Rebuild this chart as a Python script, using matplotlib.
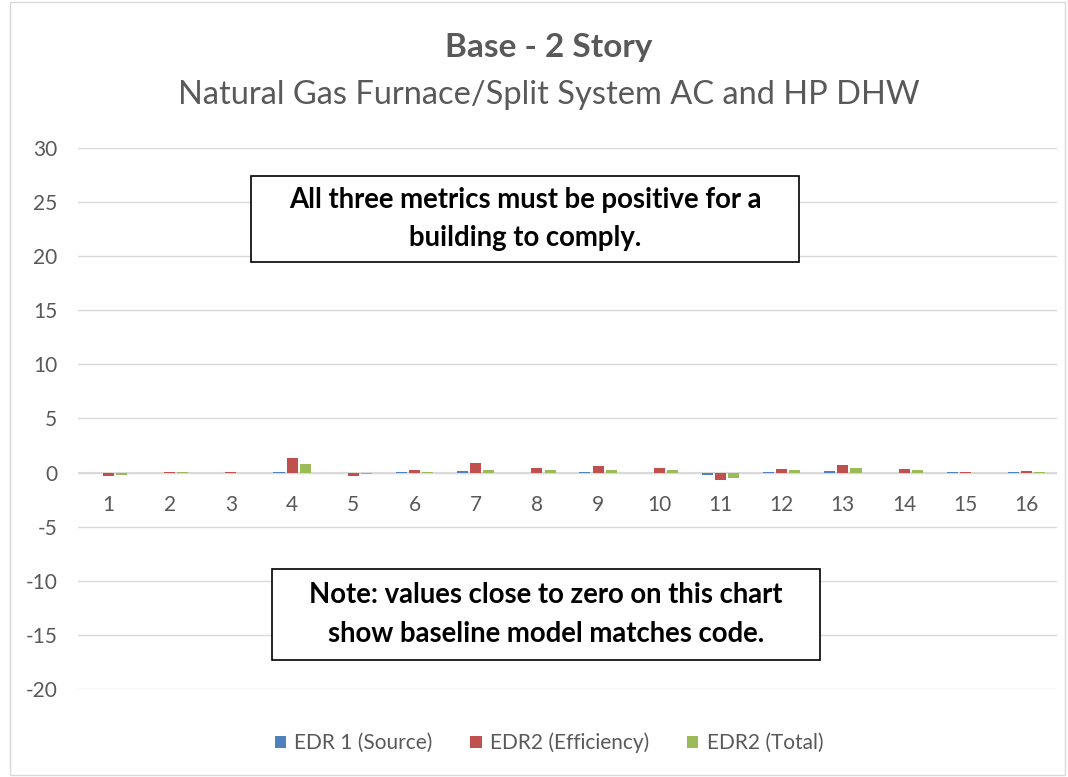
import numpy as np
import matplotlib.pyplot as plt
from matplotlib.patches import Rectangle

plt.rcParams['font.family'] = ['Lato', 'DejaVu Sans']
plt.rcParams['axes.unicode_minus'] = False

categorias = [str(i) for i in range(1, 17)]
edr1_source = [-0.05, -0.05, -0.05, 0.1, -0.05, 0.1, 0.15, 0.0, 0.1, 0.0, -0.25, 0.1, 0.15, 0.0, 0.05, 0.05]
edr2_eficiencia = [-0.3, 0.1, 0.1, 1.35, -0.3, 0.28, 0.87, 0.47, 0.6, 0.47, -0.7, 0.37, 0.7, 0.37, 0.1, 0.15]
edr2_total = [-0.2, 0.1, 0.0, 0.77, -0.15, 0.1, 0.25, 0.25, 0.25, 0.25, -0.5, 0.22, 0.47, 0.25, 0.0, 0.05]

series = [('EDR 1 (Source)', edr1_source, '#4f81bd'),
          ('EDR2 (Efficiency)', edr2_eficiencia, '#c0504d'),
          ('EDR2 (Total)', edr2_total, '#9bbb59')]

cinza = '#595959'

fig = plt.figure(figsize=(10.68, 7.77), dpi=100)
ax = fig.add_axes([78 / 1068, 1 - 689 / 777, 979 / 1068, 541 / 777])

x = np.arange(len(categorias))
passo = 0.215
largura = 0.18
for k, (nome, valores, cor) in enumerate(series):
    ax.bar(x + (k - 1) * passo, valores, largura, color=cor, label=nome, zorder=3)

ax.set_xlim(-0.5, len(categorias) - 0.5)
ax.set_ylim(-20, 30)
ax.set_yticks(np.arange(-20, 31, 5))
ax.yaxis.grid(True, color='#d9d9d9', linewidth=1, zorder=0)
ax.axhline(0, color='#d9d9d9', linewidth=1.5, zorder=2)
for s in ax.spines.values():
    s.set_visible(False)
ax.tick_params(axis='y', length=0, labelsize=15, labelcolor=cinza, pad=15)
ax.set_xticks([])
for i, c in enumerate(categorias):
    ax.text(i, -2.1, c, ha='center', va='top', fontsize=15, color=cinza)

centro = 549 / 1068
fig.text(centro, 1 - 48 / 777, 'Base - 2 Story', ha='center', va='center',
         fontsize=24, fontweight='bold', color=cinza)
fig.text(centro, 1 - 95 / 777, 'Natural Gas Furnace/Split System AC and HP DHW',
         ha='center', va='center', fontsize=23.5, color=cinza)

# caixas de texto
for (x0, y0, x1, y1, txt) in [(251, 176, 799, 262, 'All three metrics must be positive for a\nbuilding to comply.'),
                               (272, 569, 820, 660, 'Note: values close to zero on this chart\nshow baseline model matches code.')]:
    fig.patches.append(Rectangle((x0 / 1068, 1 - y1 / 777), (x1 - x0) / 1068, (y1 - y0) / 777,
                                 transform=fig.transFigure, facecolor='white', edgecolor='black',
                                 linewidth=1.2, zorder=5))
    fig.text((x0 + x1) / 2 / 1068, 1 - (y0 + y1) / 2 / 777, txt, ha='center', va='center',
             fontsize=19.8, fontweight='bold', color='black', linespacing=1.6, zorder=6)

fig.patches.append(Rectangle((10 / 1068, 2 / 777), 1055 / 1068, 773 / 777, transform=fig.transFigure,
                             facecolor='none', edgecolor='#d9d9d9', linewidth=1))

fig.legend(loc='center', bbox_to_anchor=(centro, 1 - 743 / 777), ncol=3, frameon=False,
           fontsize=15, handlelength=0.55, handleheight=0.55, columnspacing=1.8,
           handletextpad=0.4, labelcolor=cinza)

fig.savefig('out.png', dpi=100)
